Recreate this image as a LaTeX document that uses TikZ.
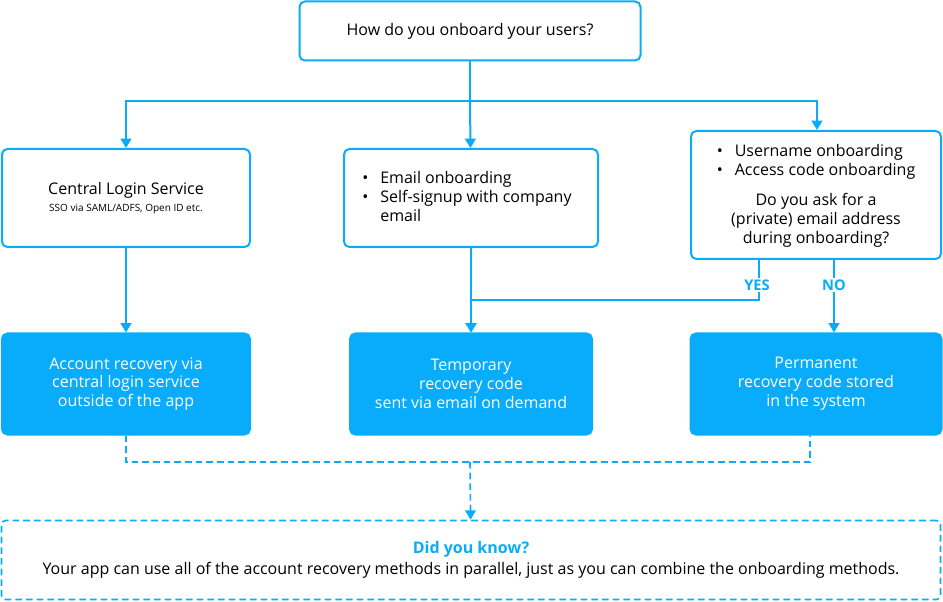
\documentclass[tikz,border=0pt]{standalone}
\usepackage{fontspec}
\setmainfont{Open Sans}
\usepackage{tikz}
\usetikzlibrary{positioning}
\usetikzlibrary{arrows.meta}
\definecolor{skyblue}{HTML}{08ACFA}

\begin{document}
\begin{tikzpicture}[x=0.75pt,y=-0.75pt,
	box/.style={rectangle,draw=skyblue,line width=1.5pt,rounded corners=4pt,align=center,inner sep=0pt,font=\fontsize{12}{14.2}\selectfont},
	result/.style={box,fill=skyblue,text=white},
	flow/.style={draw=skyblue,line width=1.5pt,-{Triangle[length=7pt,width=8pt]}},
	hint/.style={draw=skyblue,line width=1.2pt,dash pattern=on 5pt off 3pt},
	answer/.style={text=skyblue,font=\fontsize{11}{13}\selectfont\bfseries,fill=white,inner sep=1pt}
	]
	\useasboundingbox (0,0) rectangle (943,602);
	\node [box,minimum width=255.75pt,minimum height=44.25pt] (question) at (470,31) {How do you onboard your users?};
	\node [box,minimum width=186pt,minimum height=73.5pt] (central) at (126,198) {Central Login Service\\[-1pt]{\fontsize{7.5}{10}\selectfont SSO via SAML/ADFS, Open ID etc.}};
	\node [box,minimum width=190.5pt,minimum height=73.5pt] (email) at (471,198) {};
	\node [font=\fontsize{12}{14.2}\selectfont,anchor=north west,inner sep=0pt] (email text) at (362,170) {\begin{tabular}{@{}l@{\hspace{9pt}}l@{}}\textbullet & Email onboarding\\ \textbullet & Self-signup with company\\ & email\end{tabular}};
	\node [box,minimum width=187.5pt,minimum height=96pt] (username) at (816,195) {\begin{tabular}{@{}l@{\hspace{9pt}}l@{}}\textbullet & Username onboarding\\ \textbullet & Access code onboarding\end{tabular}\\[8pt] Do you ask for a\\ (private) email address\\ during onboarding?};
	\node [result,minimum width=186pt,minimum height=75.75pt] (central rec) at (126,384) {Account recovery via\\ central login service\\ outside of the app};
	\node [result,minimum width=181.5pt,minimum height=75.75pt] (temp rec) at (471,384) {Temporary\\ recovery code\\ sent via email on demand};
	\node [result,minimum width=188.25pt,minimum height=75.75pt] (perm rec) at (816,384) {Permanent\\ recovery code stored\\ in the system};
	\node [box,hint,rounded corners=3pt,minimum width=704.25pt,minimum height=59.25pt] (know) at (471,560) {{\color{skyblue}\bfseries Did you know?}\\[2pt] Your app can use all of the account recovery methods in parallel, just as you can combine the onboarding methods.};
	\coordinate (split) at (470,101);
	\coordinate (join) at (470,462);

	\draw [flow] (question) -- (split) -| (central);
	\draw [flow] (split) -- (email);
	\draw [flow] (split) -| (username.north -| 817,0);
	\draw [flow] (central) -- (central rec);
	\draw [flow] (email) -- (temp rec);
	\draw [flow] (username.south -| 759,0) -- (759,300) -- (471,300) -- (temp rec.north -| 471,0);
	\draw [flow] (username.south -| 834,0) -- (perm rec.north -| 834,0);
	\node [answer] (yes) at (757,285) {YES};
	\node [answer] (no) at (834,285) {NO};
	\draw [hint] (central rec) -- (126,462) -- (810,462) -- (perm rec.south -| 810,0);
	\draw [hint,-{Triangle[length=7pt,width=8pt]}] (join) -- (know);
\end{tikzpicture}
\end{document}
